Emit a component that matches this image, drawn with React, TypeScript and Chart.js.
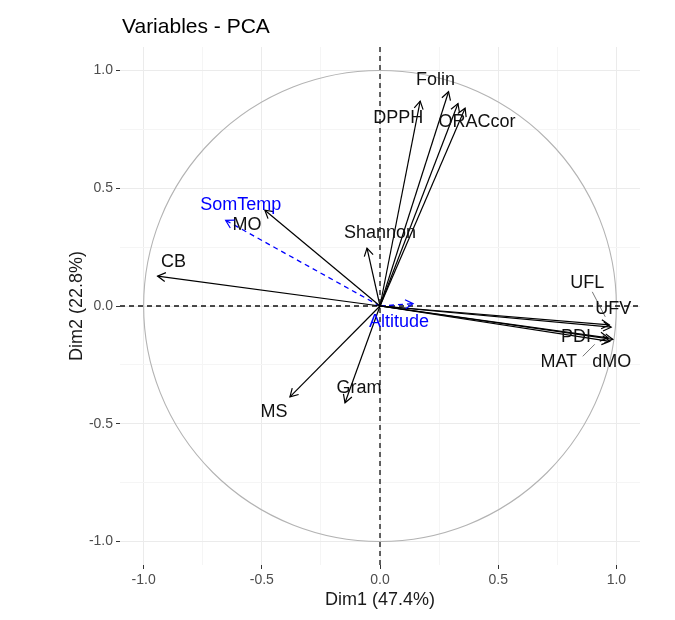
import React, { useEffect, useRef } from "react";
import { Chart, registerables } from "chart.js";

Chart.register(...registerables);

// ---- data ----
const activeNames = ["DPPH", "Folin", "", "ORACcor", "Shannon", "MO", "CB", "MS", "Gram", "UFL", "UFV", "PDI", "MAT", "dMO"];
const activeDim1 = [0.17, 0.29, 0.33, 0.36, -0.055, -0.487, -0.941, -0.381, -0.148, 0.97, 0.978, 0.965, 0.972, 0.985];
const activeDim2 = [0.87, 0.91, 0.86, 0.84, 0.246, 0.407, 0.127, -0.386, -0.411, -0.08, -0.09, -0.135, -0.15, -0.142];
const suppNames = ["SomTemp", "Altitude"];
const suppDim1 = [-0.653, 0.14];
const suppDim2 = [0.364, 0.01];
const tickValues = [-1, -0.75, -0.5, -0.25, 0, 0.25, 0.5, 0.75, 1];
const tickLabels = ["-1.0", "", "-0.5", "", "0.0", "", "0.5", "", "1.0"];
const titleText = "Variables - PCA";
const xTitle = "Dim1 (47.4%)";
const yTitle = "Dim2 (22.8%)";

// ---- layout (pixel offsets of labels from arrow tips) ----
const labelOffsets: Record<string, [number, number]> = {
  DPPH: [-22, 17],
  Folin: [-13, -12],
  ORACcor: [12, 14],
  Shannon: [13, -15],
  MO: [-18, 15],
  CB: [16, -14],
  MS: [-16, 15],
  Gram: [14, -15],
  UFL: [-22, -42],
  UFV: [2, -18],
  PDI: [-32, -1],
  MAT: [-51, 21],
  dMO: [-1, 23],
  SomTemp: [15, -15],
  Altitude: [-14, 18],
};
const leaderSegments: Record<string, [number, number, number, number]> = {
  UFL: [-17, -33, -4, -8],
  MAT: [-27, 15, -15, 3],
};

const FONT = '"Liberation Sans", Arial, sans-serif';
const BLUE = "#0000ff";

const isMajor = (v: number) => Math.abs(v * 2 - Math.round(v * 2)) < 1e-6;

const pcaPlugin = {
  id: "pcaDecor",
  beforeDatasetsDraw(chart: any) {
    const { ctx, chartArea: a, scales } = chart;
    const x = scales.x, y = scales.y;
    const cx = x.getPixelForValue(0), cy = y.getPixelForValue(0);
    const rx = x.getPixelForValue(1) - cx;
    const ry = cy - y.getPixelForValue(1);
    ctx.save();
    ctx.strokeStyle = "#b3b3b3";
    ctx.lineWidth = 1.1;
    ctx.beginPath();
    ctx.ellipse(cx, cy, rx, ry, 0, 0, Math.PI * 2);
    ctx.stroke();
    ctx.strokeStyle = "#111";
    ctx.lineWidth = 1.3;
    ctx.setLineDash([5, 4]);
    ctx.beginPath();
    ctx.moveTo(a.left, cy);
    ctx.lineTo(a.right, cy);
    ctx.moveTo(cx, a.top);
    ctx.lineTo(cx, a.bottom);
    ctx.stroke();
    ctx.restore();
  },
  afterDatasetsDraw(chart: any) {
    const { ctx } = chart;
    ctx.save();
    chart.data.datasets.forEach((ds: any, i: number) => {
      const meta = chart.getDatasetMeta(i);
      const p0 = meta.data[0], p1 = meta.data[1];
      if (!p0 || !p1) return;
      const ang = Math.atan2(p1.y - p0.y, p1.x - p0.x);
      const len = 9, spread = Math.PI / 6;
      ctx.strokeStyle = ds.borderColor;
      ctx.lineWidth = 1.2;
      ctx.setLineDash([]);
      ctx.beginPath();
      ctx.moveTo(p1.x - len * Math.cos(ang - spread), p1.y - len * Math.sin(ang - spread));
      ctx.lineTo(p1.x, p1.y);
      ctx.lineTo(p1.x - len * Math.cos(ang + spread), p1.y - len * Math.sin(ang + spread));
      ctx.stroke();
      const name = ds.label as string;
      if (!name) return;
      const seg = leaderSegments[name];
      if (seg) {
        ctx.strokeStyle = "#555";
        ctx.lineWidth = 0.8;
        ctx.beginPath();
        ctx.moveTo(p1.x + seg[0], p1.y + seg[1]);
        ctx.lineTo(p1.x + seg[2], p1.y + seg[3]);
        ctx.stroke();
      }
      const off = labelOffsets[name] || [0, -14];
      ctx.fillStyle = ds.supp ? BLUE : "#111";
      ctx.font = `18px ${FONT}`;
      ctx.textAlign = "center";
      ctx.textBaseline = "middle";
      ctx.fillText(name, p1.x + off[0], p1.y + off[1]);
    });
    // titles
    const a = chart.chartArea;
    ctx.fillStyle = "#000";
    ctx.font = `21px ${FONT}`;
    ctx.textAlign = "left";
    ctx.textBaseline = "alphabetic";
    ctx.fillText(titleText, a.left + 2, 25);
    ctx.fillStyle = "#1a1a1a";
    ctx.font = `18px ${FONT}`;
    ctx.textAlign = "center";
    ctx.textBaseline = "middle";
    ctx.fillText(xTitle, (a.left + a.right) / 2, 592);
    ctx.save();
    ctx.translate(69, (a.top + a.bottom) / 2);
    ctx.rotate(-Math.PI / 2);
    ctx.fillText(yTitle, 0, 0);
    ctx.restore();
    ctx.restore();
  },
};

function makeScale(isX: boolean) {
  return {
    type: "linear" as const,
    min: -1.1,
    max: 1.1,
    afterBuildTicks: (s: any) => {
      s.ticks = tickValues.map((v) => ({ value: v }));
    },
    afterFit: (s: any) => {
      if (isX) s.height = 47;
      else s.width = 112;
    },
    border: { display: false },
    grid: {
      color: (c: any) => (isMajor(c.tick?.value ?? 0) ? "#ebebeb" : "#f5f5f5"),
      lineWidth: 1,
      tickColor: (c: any) => (isMajor(c.tick?.value ?? 0) ? "#333333" : "rgba(0,0,0,0)"),
      tickLength: 4,
      drawTicks: true,
    },
    ticks: {
      autoSkip: false,
      maxRotation: 0,
      padding: 3,
      color: "#4d4d4d",
      font: { family: FONT, size: 14 },
      callback: (_v: any, i: number) => tickLabels[i],
    },
  };
}

export default function App() {
  const ref = useRef<HTMLCanvasElement | null>(null);
  useEffect(() => {
    if (!ref.current) return;
    const datasets: any[] = [];
    activeNames.forEach((n, i) => {
      datasets.push({
        label: n,
        data: [{ x: 0, y: 0 }, { x: activeDim1[i], y: activeDim2[i] }],
        borderColor: "#000000",
        borderWidth: 1.2,
        pointRadius: 0,
        showLine: true,
        supp: false,
      });
    });
    suppNames.forEach((n, i) => {
      datasets.push({
        label: n,
        data: [{ x: 0, y: 0 }, { x: suppDim1[i], y: suppDim2[i] }],
        borderColor: BLUE,
        borderWidth: 1.3,
        borderDash: [5, 4],
        pointRadius: 0,
        showLine: true,
        supp: true,
      });
    });
    const chart = new Chart(ref.current, {
      type: "scatter",
      data: { datasets },
      options: {
        responsive: false,
        animation: false,
        devicePixelRatio: 1,
        layout: { padding: { left: 0, right: 27, top: 39, bottom: 0 } },
        plugins: { legend: { display: false }, tooltip: { enabled: false }, title: { display: false } },
        scales: { x: makeScale(true) as any, y: makeScale(false) as any },
      },
      plugins: [pcaPlugin],
    });
    return () => chart.destroy();
  }, []);
  return (
    <div style={{ width: 659, height: 604, background: "#fff" }}>
      <canvas ref={ref} width={659} height={604} style={{ width: 659, height: 604, display: "block" }} />
    </div>
  );
}
